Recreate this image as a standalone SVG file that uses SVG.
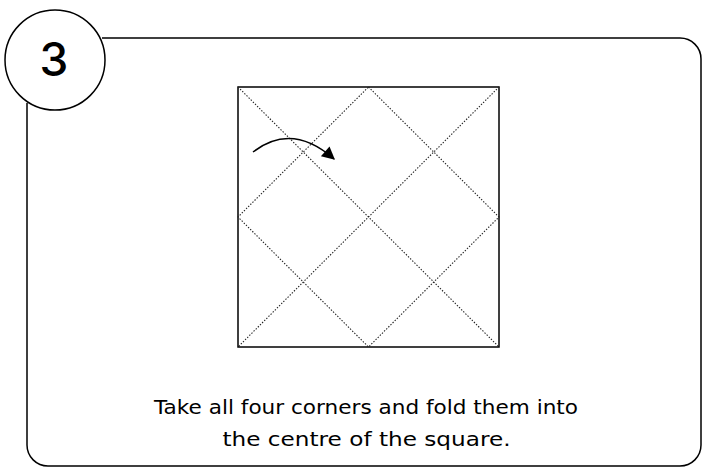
<svg xmlns="http://www.w3.org/2000/svg" width="702" height="467" viewBox="0 0 702 467">
<style>
.frame{fill:none;stroke:#000;stroke-width:1.5}
.fold{fill:none;stroke:#222;stroke-width:1.1;stroke-dasharray:1.4 1.6}
.txt{font-family:"DejaVu Sans","Liberation Sans",sans-serif;font-size:19px;fill:#000;text-anchor:middle}
</style>
<defs>
<marker id="ah" viewBox="0 0 10 10" refX="9" refY="5" markerWidth="15" markerHeight="13" markerUnits="userSpaceOnUse" orient="auto">
<path d="M0,0 L10,5 L0,10 z" fill="#000"/>
</marker>
</defs>
<g id="frame">
<path class="frame" d="M102,38 H680 A21,21 0 0 1 701,59 V445 A21,21 0 0 1 680,466 H48 A21,21 0 0 1 27,445 V103"/>
</g>
<g id="step-badge">
<circle cx="55" cy="60" r="50" fill="#fff" stroke="#000" stroke-width="1.5"/>
<text x="54" y="76" font-family="Inter,'Liberation Sans',sans-serif" font-size="46" font-weight="500" text-anchor="middle">3</text>
</g>
<g id="paper">
<rect x="238" y="87" width="261" height="260" fill="#fff" stroke="#000" stroke-width="1.5"/>
</g>
<g id="folds">
<path class="fold" d="M368.5,87 L499,217 L368.5,347 L238,217 Z"/>
<path class="fold" d="M238,87 L499,347 M499,87 L238,347"/>
</g>
<g id="connectors">
<path d="M253,152 Q292,122 334,159" fill="none" stroke="#000" stroke-width="1.5" marker-end="url(#ah)"/>
</g>
<g id="caption">
<text class="txt" x="366" y="414" textLength="424" lengthAdjust="spacingAndGlyphs">Take all four corners and fold them into</text>
<text class="txt" x="366.5" y="446" textLength="288" lengthAdjust="spacingAndGlyphs">the centre of the square.</text>
</g>
</svg>
